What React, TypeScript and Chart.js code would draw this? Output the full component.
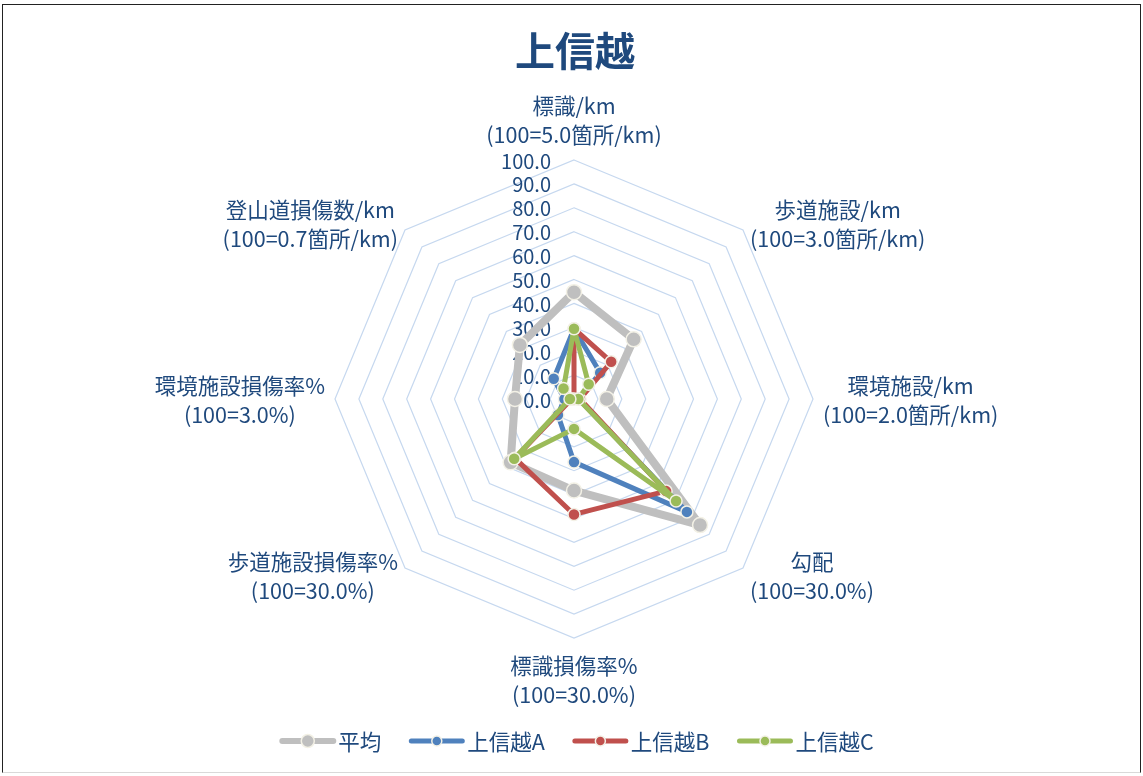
import React, { useEffect, useRef } from 'react';
import { Chart, registerables } from 'chart.js';

Chart.register(...registerables);

const chartTitle = '上信越';
const axisNames = ['標識/km', '歩道施設/km', '環境施設/km', '勾配', '標識損傷率%', '歩道施設損傷率%', '環境施設損傷率%', '登山道損傷数/km'];
const axisScales = ['(100=5.0箇所/km)', '(100=3.0箇所/km)', '(100=2.0箇所/km)', '(100=30.0%)', '(100=30.0%)', '(100=30.0%)', '(100=3.0%)', '(100=0.7箇所/km)'];
const tickValues = [0, 10, 20, 30, 40, 50, 60, 70, 80, 90, 100];
const tickLabels = ['0.0', '10.0', '20.0', '30.0', '40.0', '50.0', '60.0', '70.0', '80.0', '90.0', '100.0'];
const seriesNames = ['平均', '上信越A', '上信越B', '上信越C'];
const averageValues = [44.7, 35.3, 13.7, 74.6, 38.3, 37.5, 24.7, 32.0];
const joshinetsuA = [29.4, 15.5, 2.0, 66.8, 26.4, 9.5, 4.0, 12.0];
const joshinetsuB = [29.4, 22.0, 2.5, 54.5, 48.3, 35.0, 1.0, 0.0];
const joshinetsuC = [29.4, 8.7, 1.8, 60.4, 12.5, 35.4, 1.7, 6.2];
const seriesColors = ['#BFBFBF', '#4F81BD', '#C0504D', '#9BBB59'];

const FONT = '"Noto Sans CJK JP", "Noto Sans", sans-serif';
const TEXT_COLOR = '#1F497D';
const MARKER_BORDER = '#F3F1E6';

const W = 1143;
const H = 776;

const customText = {
  id: 'customText',
  beforeDatasetsDraw(chart: any) {
    const ctx = chart.ctx;
    const scale = chart.scales.r;
    ctx.save();
    ctx.font = `20px ${FONT}`;
    ctx.fillStyle = TEXT_COLOR;
    ctx.textAlign = 'right';
    ctx.textBaseline = 'middle';
    tickValues.forEach((v, i) => {
      const y = scale.yCenter - scale.getDistanceFromCenterForValue(v);
      ctx.fillText(tickLabels[i], scale.xCenter - 23, y + 1);
    });
    ctx.restore();
  },
  afterDraw(chart: any) {
    const ctx = chart.ctx;
    const scale = chart.scales.r;
    ctx.save();
    // title
    ctx.font = `bold 40px ${FONT}`;
    ctx.fillStyle = TEXT_COLOR;
    ctx.textAlign = 'center';
    ctx.textBaseline = 'middle';
    ctx.fillText(chartTitle, scale.xCenter + 1, 51);

    // point labels
    ctx.font = `21.5px ${FONT}`;
    const lh = 29;
    axisNames.forEach((name, i) => {
      const lines = [name, axisScales[i]];
      const widths = lines.map((l) => ctx.measureText(l).width);
      const bw = Math.max(...widths);
      const bh = lh * lines.length;
      const ang = scale.getIndexAngle(i) - Math.PI / 2;
      const c = Math.cos(ang);
      const s = Math.sin(ang);
      const vertical = Math.abs(c) < 0.1;
      const pad = vertical ? 12 : 10;
      const p = scale.getPointPosition(i, scale.drawingArea + pad);
      let cx: number;
      if (Math.abs(c) < 0.1) cx = p.x;
      else if (c > 0) cx = p.x + bw / 2;
      else cx = p.x - bw / 2;
      let top: number;
      if (s < -0.9) top = p.y - bh;
      else if (s > 0.9) top = p.y;
      else top = p.y - bh / 2;
      ctx.textAlign = 'center';
      lines.forEach((l, k) => {
        ctx.fillText(l, cx, top + lh / 2 + k * lh + 1);
      });
    });

    // legend
    const symW = 55;
    const gap = 3;
    const spacing = 28;
    const items = seriesNames.map((n) => ({ n, w: symW + gap + ctx.measureText(n).width }));
    const total = items.reduce((a, b) => a + b.w, 0) + spacing * (items.length - 1);
    let x = 577 - total / 2;
    const ly = 741;
    items.forEach((it, i) => {
      const col = seriesColors[i];
      ctx.strokeStyle = col;
      ctx.lineWidth = i === 0 ? 6 : 5;
      ctx.lineCap = 'round';
      ctx.beginPath();
      ctx.moveTo(x + 2, ly);
      ctx.lineTo(x + symW - 2, ly);
      ctx.stroke();
      ctx.beginPath();
      ctx.arc(x + symW / 2, ly, i === 0 ? 6.5 : 5, 0, Math.PI * 2);
      ctx.fillStyle = col;
      ctx.fill();
      ctx.lineWidth = 1.5;
      ctx.strokeStyle = MARKER_BORDER;
      ctx.stroke();
      ctx.fillStyle = TEXT_COLOR;
      ctx.textAlign = 'left';
      ctx.fillText(it.n, x + symW + gap, ly + 1);
      x += it.w + spacing;
    });
    ctx.restore();
  },
};

export default function App() {
  const ref = useRef<HTMLCanvasElement | null>(null);
  useEffect(() => {
    if (!ref.current) return;
    const allSeries = [averageValues, joshinetsuA, joshinetsuB, joshinetsuC];
    const chart = new Chart(ref.current, {
      type: 'radar',
      data: {
        labels: axisNames,
        datasets: allSeries.map((vals, i) => ({
          label: seriesNames[i],
          data: vals,
          borderColor: seriesColors[i],
          backgroundColor: 'rgba(0,0,0,0)',
          fill: false,
          borderWidth: i === 0 ? 8 : 5,
          borderJoinStyle: 'round' as const,
          borderCapStyle: 'round' as const,
          pointRadius: i === 0 ? 7.5 : 6,
          pointBackgroundColor: seriesColors[i],
          pointBorderColor: MARKER_BORDER,
          pointBorderWidth: 1.5,
          order: 4 - i,
        })),
      },
      options: {
        responsive: false,
        animation: false,
        layout: { padding: { left: 335, right: 330, top: 160, bottom: 138 } },
        plugins: {
          legend: { display: false },
          title: { display: false },
          tooltip: { enabled: false },
        },
        scales: {
          r: {
            min: 0,
            max: 100,
            ticks: { display: false, stepSize: 10 },
            pointLabels: { display: false },
            angleLines: { display: false },
            grid: { color: '#C6D8EF', lineWidth: 1.2, circular: false },
          },
        },
      },
      plugins: [customText],
    });
    return () => chart.destroy();
  }, []);

  return (
    <div style={{ position: 'fixed', left: 0, top: 0, width: W, height: H, background: '#fff' }}>
      <div
        style={{
          position: 'absolute',
          left: 2,
          top: 4,
          width: 1137,
          height: 767,
          borderTop: '1.5px solid #222',
          borderLeft: '1px solid #222',
          borderRight: '1px solid #222',
          borderBottom: '1px solid #d9d9d9',
        }}
      />
      <canvas ref={ref} width={W} height={H} style={{ position: 'absolute', left: 0, top: 0 }} />
    </div>
  );
}
